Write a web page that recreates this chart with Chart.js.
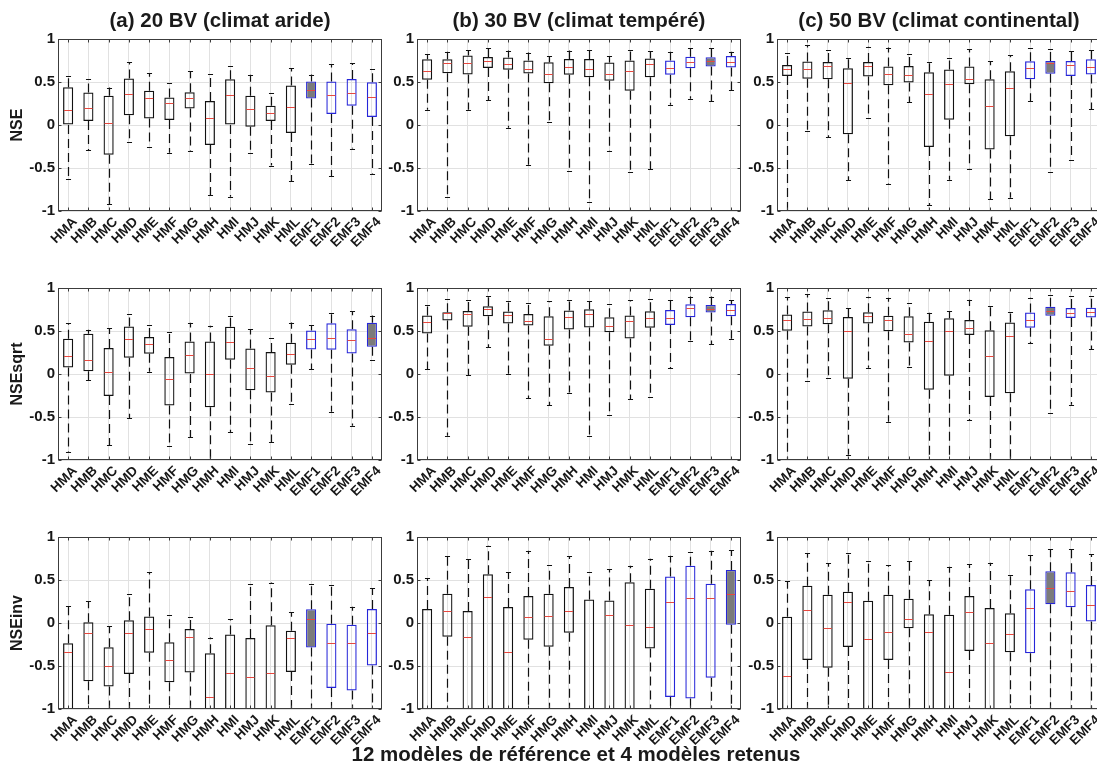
<!DOCTYPE html>
<html>
<head>
<meta charset="utf-8">
<script src="https://cdn.jsdelivr.net/npm/chart.js@4.4.1/dist/chart.umd.min.js"></script>
<style>
  html, body { margin: 0; padding: 0; background: #fff; overflow: hidden; }
  #page { position: relative; width: 1097px; height: 782px; overflow: hidden; background: #fff; }
  #page canvas { position: absolute; }
  .txt { position: absolute; font-family: 'Liberation Sans', Arial, Helvetica, sans-serif;
         font-weight: bold; color: #1a1a1a; white-space: nowrap; }
</style>
</head>
<body>
<div id="page"></div>
<script>
// Models on the x axis: 12 reference models, then the 4 retained ones
const categories = ['HMA','HMB','HMC','HMD','HME','HMF','HMG','HMH','HMI','HMJ','HMK','HML','EMF1','EMF2','EMF3','EMF4'];
const yTicks = [-1, -0.5, 0, 0.5, 1];
const columnTitles = ['(a) 20 BV (climat aride)', '(b) 30 BV (climat tempéré)', '(c) 50 BV (climat continental)'];
const rowTitles = ['NSE', 'NSEsqrt', 'NSEinv'];
const xAxisTitle = '12 modèles de référence et 4 modèles retenus';

// Each row: [lower whisker, Q1, median, Q3, upper whisker] per model
const nseAride = [
  [-0.625, 0.0, 0.17, 0.44, 0.571], [-0.29, 0.046, 0.193, 0.378, 0.533], [-0.923, -0.347, 0.023, 0.34, 0.436],
  [-0.2, 0.112, 0.359, 0.54, 0.734], [-0.251, 0.077, 0.309, 0.398, 0.602], [-0.324, 0.058, 0.255, 0.32, 0.483],
  [-0.301, 0.193, 0.309, 0.382, 0.625], [-0.819, -0.232, 0.081, 0.278, 0.598], [-0.834, 0.0, 0.351, 0.533, 0.691],
  [-0.32, -0.019, 0.181, 0.34, 0.583], [-0.471, 0.046, 0.135, 0.224, 0.367], [-0.656, -0.093, 0.205, 0.459, 0.664],
  [-0.456, 0.309, 0.409, 0.506, 0.587], [-0.595, 0.127, 0.351, 0.506, 0.707], [-0.274, 0.224, 0.37, 0.535, 0.716],
  [-0.564, 0.093, 0.32, 0.498, 0.649]
];
const nseTempere = [
  [0.178, 0.525, 0.629, 0.764, 0.822], [-0.834, 0.602, 0.718, 0.764, 0.853], [0.178, 0.587, 0.722, 0.807, 0.873],
  [0.29, 0.664, 0.745, 0.792, 0.9], [-0.031, 0.641, 0.707, 0.784, 0.865], [-0.463, 0.598, 0.653, 0.749, 0.842],
  [0.031, 0.486, 0.595, 0.73, 0.803], [-0.533, 0.583, 0.68, 0.768, 0.865], [-0.896, 0.556, 0.649, 0.768, 0.873],
  [-0.301, 0.514, 0.595, 0.726, 0.803], [-0.541, 0.398, 0.629, 0.749, 0.873], [-0.517, 0.556, 0.71, 0.772, 0.861],
  [0.236, 0.583, 0.668, 0.749, 0.853], [0.305, 0.66, 0.737, 0.795, 0.892], [0.278, 0.68, 0.749, 0.788, 0.892],
  [0.402, 0.668, 0.737, 0.803, 0.853]
];
const nseContinental = [
  [-1.2, 0.571, 0.653, 0.699, 0.842], [-0.066, 0.537, 0.649, 0.737, 0.931], [-0.143, 0.533, 0.687, 0.734, 0.873],
  [-0.645, -0.108, 0.49, 0.66, 0.776], [0.081, 0.564, 0.687, 0.734, 0.911], [-0.683, 0.463, 0.598, 0.68, 0.9],
  [0.266, 0.494, 0.587, 0.687, 0.83], [-0.934, -0.255, 0.355, 0.614, 0.737], [-0.637, 0.062, 0.479, 0.645, 0.776],
  [-0.506, 0.475, 0.537, 0.68, 0.884], [-0.865, -0.286, 0.216, 0.533, 0.741], [-0.846, -0.131, 0.432, 0.625, 0.815],
  [0.278, 0.533, 0.66, 0.741, 0.9], [-0.541, 0.595, 0.718, 0.745, 0.88], [-0.409, 0.571, 0.703, 0.745, 0.861],
  [0.181, 0.587, 0.68, 0.764, 0.873]
];
const sqrtAride = [
  [-0.907, 0.077, 0.212, 0.409, 0.591], [-0.07, 0.031, 0.162, 0.467, 0.514], [-0.826, -0.255, 0.023, 0.301, 0.533],
  [-0.517, 0.189, 0.405, 0.552, 0.703], [0.027, 0.236, 0.344, 0.429, 0.564], [-0.834, -0.367, -0.054, 0.197, 0.494],
  [-0.734, 0.0, 0.224, 0.378, 0.595], [-1.1, -0.386, 0.0, 0.378, 0.56], [-0.68, 0.166, 0.367, 0.548, 0.676],
  [-0.819, -0.189, 0.069, 0.297, 0.521], [-0.792, -0.216, -0.019, 0.255, 0.417], [-0.347, 0.108, 0.228, 0.363, 0.598],
  [0.054, 0.286, 0.409, 0.506, 0.571], [-0.44, 0.282, 0.413, 0.591, 0.71], [-0.602, 0.239, 0.398, 0.521, 0.73],
  [0.166, 0.317, 0.417, 0.595, 0.68]
];
const sqrtTempere = [
  [0.058, 0.471, 0.61, 0.68, 0.803], [-0.718, 0.622, 0.707, 0.718, 0.869], [-0.015, 0.548, 0.695, 0.734, 0.865],
  [0.309, 0.672, 0.753, 0.788, 0.903], [0.004, 0.587, 0.691, 0.726, 0.853], [-0.278, 0.564, 0.622, 0.699, 0.83],
  [-0.363, 0.328, 0.402, 0.672, 0.846], [-0.216, 0.517, 0.66, 0.737, 0.857], [-0.718, 0.541, 0.695, 0.753, 0.846],
  [-0.475, 0.486, 0.556, 0.66, 0.815], [-0.293, 0.413, 0.622, 0.68, 0.861], [-0.266, 0.537, 0.649, 0.73, 0.873],
  [0.069, 0.571, 0.656, 0.745, 0.861], [0.386, 0.66, 0.768, 0.811, 0.9], [0.344, 0.714, 0.757, 0.803, 0.9],
  [0.409, 0.672, 0.749, 0.815, 0.861]
];
const sqrtContinental = [
  [-1.2, 0.504, 0.629, 0.691, 0.895], [-0.078, 0.551, 0.645, 0.727, 0.926], [-0.047, 0.578, 0.656, 0.742, 0.887],
  [-0.938, -0.055, 0.496, 0.664, 0.773], [0.074, 0.586, 0.68, 0.719, 0.898], [-0.555, 0.496, 0.625, 0.676, 0.887],
  [0.078, 0.367, 0.465, 0.672, 0.82], [-1.2, -0.184, 0.379, 0.609, 0.711], [-1.1, -0.02, 0.496, 0.648, 0.727],
  [-0.535, 0.453, 0.531, 0.629, 0.863], [-1.2, -0.266, 0.207, 0.508, 0.785], [-1.1, -0.223, 0.445, 0.598, 0.719],
  [0.355, 0.539, 0.629, 0.715, 0.887], [-0.457, 0.676, 0.73, 0.781, 0.922], [-0.359, 0.652, 0.711, 0.766, 0.906],
  [0.285, 0.656, 0.723, 0.77, 0.91]
];
const invAride = [
  [-1.6, -1.1, -0.337, -0.235, 0.196], [-1.2, -0.678, -0.118, 0.008, 0.255], [-1.2, -0.737, -0.502, -0.282, -0.039],
  [-1.2, -0.592, -0.118, 0.031, 0.333], [-1.2, -0.345, -0.071, 0.075, 0.588], [-1.2, -0.69, -0.435, -0.224, 0.094],
  [-1.2, -0.576, -0.157, -0.071, 0.075], [-1.6, -1.1, -0.863, -0.353, -0.169], [-1.6, -1.1, -0.576, -0.133, 0.047],
  [-1.6, -1.1, -0.627, -0.173, 0.451], [-1.6, -1.1, -0.584, -0.027, 0.47], [-1.2, -0.569, -0.169, -0.09, 0.129],
  [-1.2, -0.286, 0.051, 0.161, 0.451], [-1.2, -0.757, -0.227, -0.008, 0.439], [-1.2, -0.784, -0.227, -0.02, 0.188],
  [-1.2, -0.495, -0.117, 0.163, 0.408]
];
const invTempere = [
  [-1.6, -1.1, -0.988, 0.163, 0.523], [-1.2, -0.16, 0.144, 0.339, 0.782], [-1.6, -1.1, -0.167, 0.14, 0.743],
  [-1.6, -1.1, 0.307, 0.568, 0.899], [-1.6, -1.1, -0.342, 0.187, 0.588], [-1.2, -0.195, 0.066, 0.315, 0.84],
  [-1.2, -0.276, 0.078, 0.339, 0.673], [-1.2, -0.113, 0.144, 0.42, 0.774], [-1.6, -1.1, -1.05, 0.272, 0.588],
  [-1.6, -1.1, 0.093, 0.261, 0.623], [-1.6, -1.1, -0.027, 0.475, 0.665], [-1.2, -0.296, -0.05, 0.399, 0.748],
  [-1.2, -0.86, 0.245, 0.541, 0.782], [-1.2, -0.879, 0.288, 0.665, 0.825], [-1.2, -0.638, 0.296, 0.455, 0.84],
  [-1.6, -0.019, 0.339, 0.615, 0.844]
];
const invContinental = [
  [-1.6, -1.1, -0.616, 0.074, 0.488], [-1.2, -0.43, 0.151, 0.434, 0.81], [-1.2, -0.519, -0.062, 0.329, 0.694],
  [-1.2, -0.279, 0.24, 0.364, 0.81], [-1.6, -1.1, -0.186, 0.26, 0.721], [-1.2, -0.43, -0.101, 0.329, 0.674],
  [-1.2, -0.062, 0.05, 0.283, 0.721], [-1.6, -1.1, -0.109, 0.101, 0.5], [-1.6, -1.1, -0.57, 0.097, 0.655],
  [-1.2, -0.326, 0.124, 0.314, 0.686], [-1.6, -1.1, -0.229, 0.174, 0.702], [-1.2, -0.341, -0.132, 0.112, 0.558],
  [-1.2, -0.353, 0.171, 0.391, 0.791], [-1.2, 0.217, 0.403, 0.601, 0.857], [-1.2, 0.182, 0.372, 0.589, 0.857],
  [-1.2, 0.016, 0.209, 0.442, 0.802]
];

// Best retained model of each panel (shaded box), row by row
const shadedNSE = ['EMF1', 'EMF3', 'EMF2'];
const shadedSqrt = ['EMF4', 'EMF3', 'EMF2'];
const shadedInv = ['EMF1', 'EMF4', 'EMF2'];

const panelStats = [
  [nseAride, nseTempere, nseContinental],
  [sqrtAride, sqrtTempere, sqrtContinental],
  [invAride, invTempere, invContinental]
];
const panelShaded = [shadedNSE, shadedSqrt, shadedInv];

// Layout of the plot areas
const colLeft = [58, 417, 777];
const rowTop = [39, 288, 537];
const plotW = 324, plotH = 172;

const FONT = "'Liberation Sans', Arial, Helvetica, sans-serif";
const INK = '#161616';
const GRID = '#e1e1e1';
const FRAME = '#3c3c3c';
const BLUE = '#2626d8';
const BLACK = '#111111';
const SHADE = '#7b7b7b';
const MEDIAN = '#e8483f';

const boxPlotPlugin = {
  id: 'boxPlot',
  beforeDatasetsDraw(chart) {
    const {ctx, chartArea: a, scales: {x, y}} = chart;
    const stats = chart.data.datasets[0].stats;
    const bars = chart.getDatasetMeta(0).data;
    ctx.save();
    ctx.beginPath();
    ctx.rect(a.left, a.top, a.right - a.left, a.bottom - a.top);
    ctx.clip();
    ctx.strokeStyle = BLACK;
    ctx.lineWidth = 1.2;
    stats.forEach((s, i) => {
      const cx = Math.round(x.getPixelForValue(i)) + 0.5;
      const capHalf = bars[i].width / 4;
      const yLow = y.getPixelForValue(s[0]);
      const yQ1 = y.getPixelForValue(s[1]);
      const yQ3 = y.getPixelForValue(s[3]);
      const yHigh = y.getPixelForValue(s[4]);
      ctx.setLineDash([9, 5]);
      ctx.beginPath();
      ctx.moveTo(cx, yQ3); ctx.lineTo(cx, yHigh);
      ctx.moveTo(cx, yQ1); ctx.lineTo(cx, yLow);
      ctx.stroke();
      ctx.setLineDash([]);
      ctx.beginPath();
      [yHigh, yLow].forEach(v => {
        const yy = Math.round(v) + 0.5;
        ctx.moveTo(cx - capHalf, yy); ctx.lineTo(cx + capHalf, yy);
      });
      ctx.stroke();
    });
    ctx.restore();
  },
  afterDatasetsDraw(chart) {
    const {ctx, chartArea: a, scales: {y}} = chart;
    const stats = chart.data.datasets[0].stats;
    const bars = chart.getDatasetMeta(0).data;
    ctx.save();
    ctx.beginPath();
    ctx.rect(a.left, a.top, a.right - a.left, a.bottom - a.top);
    ctx.clip();
    ctx.strokeStyle = MEDIAN;
    ctx.lineWidth = 1;
    ctx.beginPath();
    stats.forEach((s, i) => {
      const yy = Math.round(y.getPixelForValue(s[2])) + 0.5;
      const half = bars[i].width / 2;
      ctx.moveTo(bars[i].x - half + 1, yy); ctx.lineTo(bars[i].x + half - 1, yy);
    });
    ctx.stroke();
    ctx.restore();
  },
  afterDraw(chart) {
    const {ctx, chartArea: a, scales: {x, y}} = chart;
    const l = Math.round(a.left) + 0.5, t = Math.round(a.top) + 0.5;
    const r = Math.round(a.right) - 0.5, b = Math.round(a.bottom) - 0.5;
    ctx.save();
    ctx.strokeStyle = FRAME;
    ctx.lineWidth = 1;
    ctx.strokeRect(l, t, r - l, b - t);
    ctx.beginPath();
    categories.forEach((c, i) => {
      const px = Math.round(x.getPixelForValue(i)) + 0.5;
      ctx.moveTo(px, t); ctx.lineTo(px, t + 3);
      ctx.moveTo(px, b); ctx.lineTo(px, b - 3);
    });
    yTicks.forEach(v => {
      const py = Math.round(y.getPixelForValue(v)) + 0.5;
      ctx.moveTo(l, py); ctx.lineTo(l + 3, py);
      ctx.moveTo(r, py); ctx.lineTo(r - 3, py);
    });
    ctx.stroke();
    ctx.restore();
  }
};

function panelConfig(stats, shaded) {
  return {
    type: 'bar',
    data: {
      labels: categories,
      datasets: [{
        data: stats.map(s => [s[1], s[3]]),
        stats: stats,
        backgroundColor: categories.map(c => c === shaded ? SHADE : 'rgba(255,255,255,0)'),
        borderColor: categories.map(c => c.startsWith('EMF') ? BLUE : BLACK),
        borderWidth: 1.25,
        borderSkipped: false,
        barPercentage: 0.5,
        categoryPercentage: 1
      }]
    },
    options: {
      responsive: false,
      maintainAspectRatio: false,
      animation: false,
      events: [],
      layout: { padding: { top: 15, right: 10, left: 0, bottom: 0 } },
      plugins: { legend: { display: false }, tooltip: { enabled: false }, title: { display: false } },
      scales: {
        x: {
          offset: true,
          grid: { offset: false, color: GRID, drawTicks: false },
          border: { display: false },
          ticks: {
            autoSkip: false, minRotation: 45, maxRotation: 45, padding: 3, labelOffset: 7,
            color: INK, font: { family: FONT, size: 13.5, weight: 'bold' }
          },
          afterFit(scale) { scale.height = 50; }
        },
        y: {
          min: -1, max: 1,
          afterBuildTicks(axis) { axis.ticks = yTicks.map(v => ({ value: v })); },
          grid: { color: GRID, drawTicks: false },
          border: { display: false },
          ticks: {
            padding: 3, color: INK,
            font: { family: FONT, size: 15, weight: 'bold' },
            callback: v => String(v)
          },
          afterFit(scale) { scale.width = 60; }
        }
      }
    },
    plugins: [boxPlotPlugin]
  };
}

const page = document.getElementById('page');

function buildPanel(row, col) {
  const target = { l: colLeft[col], t: rowTop[row], w: plotW, h: plotH };
  const canvas = document.createElement('canvas');
  page.appendChild(canvas);
  let cw = plotW + 70, ch = plotH + 65;
  canvas.width = cw; canvas.height = ch;
  let chart = new Chart(canvas, panelConfig(panelStats[row][col], panelShaded[row][col]));
  let a = chart.chartArea;
  const dw = target.w - Math.round(a.right - a.left);
  const dh = target.h - Math.round(a.bottom - a.top);
  if (dw !== 0 || dh !== 0) {
    chart.destroy();
    cw += dw; ch += dh;
    canvas.width = cw; canvas.height = ch;
    chart = new Chart(canvas, panelConfig(panelStats[row][col], panelShaded[row][col]));
    a = chart.chartArea;
  }
  canvas.style.left = (target.l - Math.round(a.left)) + 'px';
  canvas.style.top = (target.t - Math.round(a.top)) + 'px';
}

for (let r = 0; r < 3; r++) {
  for (let c = 0; c < 3; c++) buildPanel(r, c);
}

function addText(text, css) {
  const d = document.createElement('div');
  d.className = 'txt';
  d.textContent = text;
  Object.assign(d.style, css);
  page.appendChild(d);
  return d;
}

columnTitles.forEach((t, c) => {
  addText(t, {
    left: colLeft[c] + 'px', width: plotW + 'px', top: '10px',
    textAlign: 'center', fontSize: '20.5px', lineHeight: '20px'
  });
});

rowTitles.forEach((t, r) => {
  addText(t, {
    left: '16.5px', top: (rowTop[r] + plotH / 2) + 'px',
    fontSize: '16px', lineHeight: '16px',
    transform: 'translate(-50%, -50%) rotate(-90deg)'
  });
});

addText(xAxisTitle, {
  left: (colLeft[1] + plotW / 2 - 3) + 'px', top: '743px',
  fontSize: '20.5px', lineHeight: '21px',
  transform: 'translateX(-50%)'
});
</script>
</body>
</html>
